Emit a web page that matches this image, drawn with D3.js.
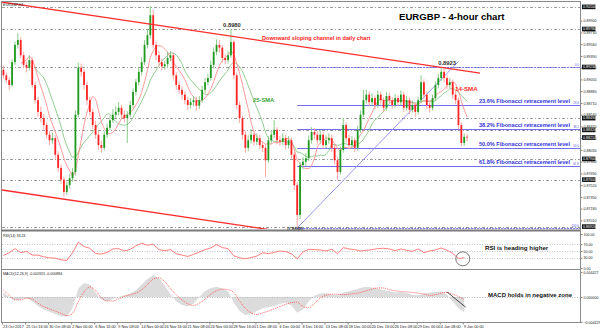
<!DOCTYPE html>
<html>
<head>
<meta charset="utf-8">
<script src="https://cdn.jsdelivr.net/npm/d3@7"></script>
<style>
  body { margin: 0; background: #fff; }
  svg { display: block; font-family: "Liberation Sans", Arial, sans-serif; }
</style>
</head>
<body>
<div id="wrapper"></div>
<script>
// 1. Data (8-hour bars, open = previous close)
const firstOpen = 0.8919;
const closes = [
  .8911,.8904,.8897,.8930,.8955,.8962,.8940,.8926,.8922,.8933,
  .8897,.8875,.8858,.8849,.8839,.8825,.8817,.8820,.8796,.8777,
  .8760,.8742,.8752,.8762,.8771,.8854,.8922,.8916,.8897,.8875,
  .8858,.8839,.8825,.8810,.8806,.8825,.8835,.8846,.8854,.8858,
  .8864,.8854,.8849,.8854,.8868,.8887,.8901,.8916,.8930,.8955,
  .8969,.8998,.8955,.8940,.8930,.8924,.8927,.8936,.8940,.8911,
  .8897,.8890,.8883,.8875,.8868,.8872,.8875,.8867,.8875,.8890,
  .8901,.8907,.8926,.8945,.8955,.8951,.8936,.8933,.8940,.8959,
  .8911,.8868,.8849,.8825,.8806,.8817,.8825,.8815,.8820,.8810,
  .8806,.8788,.8817,.8825,.8832,.8817,.8815,.8820,.8810,.8817,
  .8796,.8752,.8709,.8781,.8786,.8791,.8817,.8829,.8825,.8817,
  .8825,.8810,.8817,.8820,.8806,.8788,.8771,.8803,.8839,.8820,
  .8810,.8817,.8806,.8832,.8854,.8875,.8883,.8872,.8878,.8868,
  .8883,.8875,.8864,.8881,.8875,.8868,.8878,.8872,.8883,.8864,
  .8875,.8861,.8868,.8858,.8875,.8901,.8883,.8868,.8864,.8878,
  .8897,.8907,.8916,.8907,.8897,.8901,.8883,.8875,.8839,.8813,
  .8822,.8821
];
const highs = [
  .8925,.8915,.8908,.8934,.8960,.8972,.8966,.8945,.8931,.8940,
  .8937,.8902,.8880,.8866,.8855,.8843,.8830,.8828,.8824,.8801,
  .8782,.8764,.8757,.8768,.8777,.8860,.8929,.8928,.8920,.8902,
  .8880,.8863,.8845,.8830,.8816,.8830,.8841,.8852,.8862,.8866,
  .8872,.8868,.8860,.8859,.8874,.8892,.8906,.8922,.8937,.8962,
  .8978,.9011,.9006,.8960,.8946,.8935,.8932,.8945,.8946,.8944,
  .8916,.8902,.8895,.8888,.8880,.8878,.8881,.8880,.8881,.8896,
  .8907,.8913,.8932,.8951,.8963,.8962,.8955,.8941,.8946,.8977,
  .8963,.8915,.8873,.8853,.8830,.8824,.8833,.8830,.8827,.8825,
  .8815,.8811,.8823,.8831,.8846,.8836,.8823,.8827,.8825,.8823,
  .8821,.8800,.8756,.8786,.8793,.8798,.8824,.8836,.8834,.8830,
  .8832,.8829,.8824,.8827,.8825,.8810,.8792,.8808,.8849,.8843,
  .8825,.8823,.8821,.8838,.8860,.8890,.8890,.8888,.8885,.8882,
  .8889,.8887,.8879,.8887,.8886,.8879,.8884,.8882,.8889,.8887,
  .8881,.8879,.8874,.8872,.8880,.8911,.8905,.8887,.8872,.8883,
  .8902,.8913,.8923,.8921,.8911,.8907,.8905,.8888,.8879,.8843,
  .8827,.8826
];
const lows = [
  .8906,.8899,.8890,.8894,.8926,.8950,.8935,.8921,.8915,.8918,
  .8892,.8870,.8851,.8843,.8832,.8819,.8810,.8812,.8790,.8771,
  .8754,.8735,.8738,.8747,.8757,.8766,.8850,.8909,.8890,.8868,
  .8852,.8833,.8819,.8803,.8799,.8802,.8820,.8831,.8842,.8849,
  .8853,.8848,.8843,.8813,.8850,.8864,.8882,.8896,.8911,.8926,
  .8950,.8964,.8950,.8933,.8924,.8918,.8919,.8922,.8931,.8905,
  .8890,.8884,.8876,.8869,.8861,.8863,.8866,.8860,.8862,.8871,
  .8885,.8896,.8903,.8921,.8940,.8944,.8930,.8927,.8928,.8936,
  .8905,.8862,.8842,.8818,.8799,.8801,.8812,.8809,.8810,.8804,
  .8800,.8764,.8784,.8812,.8820,.8811,.8809,.8810,.8804,.8805,
  .8790,.8745,.8690,.8703,.8775,.8780,.8787,.8812,.8819,.8811,
  .8812,.8804,.8805,.8812,.8800,.8782,.8760,.8767,.8799,.8814,
  .8804,.8805,.8800,.8802,.8828,.8850,.8870,.8866,.8867,.8862,
  .8864,.8869,.8858,.8860,.8870,.8862,.8864,.8866,.8868,.8858,
  .8860,.8855,.8857,.8851,.8854,.8871,.8877,.8862,.8857,.8860,
  .8874,.8892,.8903,.8901,.8891,.8892,.8877,.8869,.8833,.8808,
  .8809,.8815
];

// one date label every 8 bars
const dateLabels = ["23 Oct 2017", "25 Oct 16:00", "30 Oct 08:00", "2 Nov 00:00", "6 Nov 16:00",
  "9 Nov 08:00", "14 Nov 00:00", "16 Nov 16:00", "21 Nov 08:00", "24 Nov 00:00", "28 Nov 16:00",
  "1 Dec 08:00", "6 Dec 00:00", "8 Dec 16:00", "13 Dec 08:00", "18 Dec 00:00", "20 Dec 16:00",
  "26 Dec 08:00", "29 Dec 00:00", "4 Jan 08:00", "9 Jan 00:00"];

// indicator values, one every 2 bars
const rsiValues = [37,45,57,45,49,38,38,33,30,29, 24,22,45,76,63,58,43,41,46,56,
  57,50,55,65,73,67,70,54,51,54, 42,38,34,40,47,54,59,69,60,57,
  36,30,27,31,35,45,42,46,50,48, 42,27,47,55,54,53,50,55,42,60,
  56,54,50,52,54,57,58,56,51,56, 52,49,56,45,50,53,59,52,43,28, 30];
const macdMain = [.0008,.0000,-.0006,-.0004,-.0002,-.0008,-.0016,-.0022,-.0026,-.0030,
  -.0034,-.0035,-.0020,.0015,.0025,.0022,.0008,-.0005,-.0008,-.0003,
  .0000,.0003,.0006,.0012,.0022,.0032,.0039,.0033,.0020,.0005,
  -.0008,-.0014,-.0017,-.0012,.0000,.0010,.0016,.0018,.0015,.0010,
  -.0010,-.0025,-.0032,-.0030,-.0025,-.0020,-.0018,-.0016,-.0012,-.0010,
  -.0015,-.0028,-.0022,-.0008,.0002,.0006,.0007,.0004,.0003,.0008,
  .0010,.0013,.0016,.0018,.0017,.0015,.0012,.0010,.0008,.0009,
  .0007,.0004,.0003,.0006,.0008,.0009,.0010,.0004,-.0008,-.0020, -.0027];
const macdSignal = [.0012,.0003,-.0005,-.0005,-.0002,-.0004,-.0011,-.0017,-.0021,-.0025,
  -.0029,-.0033,-.0029,-.0008,.0009,.0018,.0011,-.0001,-.0007,-.0007,
  -.0003,.0001,.0004,.0007,.0013,.0022,.0032,.0034,.0027,.0015,
  .0004,-.0005,-.0012,-.0015,-.0011,-.0004,.0005,.0011,.0014,.0013,
  .0008,-.0007,-.0020,-.0028,-.0031,-.0028,-.0025,-.0021,-.0017,-.0013,
  -.0010,-.0009,-.0017,-.0019,-.0011,-.0002,.0003,.0005,.0005,.0004,
  .0005,.0006,.0008,.0011,.0014,.0016,.0016,.0013,.0011,.0010,
  .0009,.0008,.0007,.0005,.0003,.0004,.0007,.0008,.0005,.0001, -.0005];

const priceTicks = [0.8990, 0.8973, 0.8956, 0.8939, 0.8922, 0.8905, 0.8888, 0.8871, 0.8854,
  0.8837, 0.8820, 0.8803, 0.8786, 0.8769, 0.8752, 0.8735, 0.8718, 0.8701];
const levelLines = [0.9010, 0.8978, 0.8923, 0.8849, 0.8832, 0.8790, 0.8760, 0.8692];
const rsiTicks = [100, 70, 50, 30, 0];
const rsiLevels = [70, 50, 30];
const macdTicks = [0.004427, 0, -0.004429];

const fibHigh = 0.8923;
const fibLow = 0.8690;
const fibStartBar = 102;
const fibRatios = [0, 0.236, 0.382, 0.5, 0.618, 1];
const fibNames = ["0.0", "23.6", "38.2", "50.0", "61.8", "100.0"];

// [bar, price] end points
const channelUpper = [[-0.5, 0.9017], [165.5, 0.8914]];
const channelLower = [[-0.5, 0.8745], [95, 0.8686]];
const trendLine = [[102, 0.8690], [158, 0.8931]];
const macdArrow = [[154, 0.0009], [160.5, -0.0018]];

// 8h bars: 14/25-period on 4h ~ 7/12 here
const smaFast = 7;
const smaSlow = 12;

// 2. Dimensions
const dimensions = {
  width: 600,
  height: 331,
  left: 2,
  right: 580,
  main: [2, 229],
  rsi: [232, 268],
  macd: [270, 322]
};

const bars = closes.map((c, i) => ({
  i: i,
  o: i ? closes[i - 1] : firstOpen,
  h: highs[i],
  l: lows[i],
  c: c
}));

function sma(values, n) {
  const out = [];
  for (let i = n - 1; i < values.length; i++) {
    out.push([i, d3.mean(values.slice(i - n + 1, i + 1))]);
  }
  return out;
}

// 3. Canvas
const wrapper = d3.select('#wrapper')
  .append('svg')
  .attr('width', dimensions.width)
  .attr('height', dimensions.height);

wrapper.append('rect')
  .attr('width', dimensions.width)
  .attr('height', dimensions.height)
  .attr('fill', '#fff');

wrapper.append('defs').append('clipPath')
  .attr('id', 'mainClip')
  .append('rect')
  .attr('x', dimensions.left)
  .attr('y', dimensions.main[0])
  .attr('width', dimensions.right - dimensions.left)
  .attr('height', dimensions.main[1] - dimensions.main[0]);

// 4. Scales
const xScale = d3.scaleLinear()
  .domain([-0.5, 200.2])
  .range([dimensions.left, dimensions.right]);

const yScale = d3.scaleLinear()
  .domain([fibHigh, fibLow])
  .range([67, 228]);

const rsiScale = d3.scaleLinear()
  .domain([0, 100])
  .range([dimensions.rsi[1], dimensions.rsi[0] + 2]);

const macdScale = d3.scaleLinear()
  .domain([-0.004429, 0.004427])
  .range([dimensions.macd[1], dimensions.macd[0] + 2]);

// 5. Main panel
const main = wrapper.append('g').attr('clip-path', 'url(#mainClip)');

main.selectAll('.level')
  .data(levelLines)
  .enter()
  .append('line')
  .attr('x1', dimensions.left)
  .attr('x2', dimensions.right)
  .attr('y1', d => Math.round(yScale(d)) + 0.5)
  .attr('y2', d => Math.round(yScale(d)) + 0.5)
  .attr('stroke', '#9a9a9a')
  .attr('stroke-dasharray', '3 2 1 2');

main.selectAll('.fib')
  .data(fibRatios)
  .enter()
  .append('line')
  .attr('x1', xScale(fibStartBar))
  .attr('x2', dimensions.right)
  .attr('y1', d => Math.round(yScale(fibHigh - d * (fibHigh - fibLow))) + 0.5)
  .attr('y2', d => Math.round(yScale(fibHigh - d * (fibHigh - fibLow))) + 0.5)
  .attr('stroke', '#6f6ff0')
  .attr('stroke-dasharray', d => (d === 0 || d === 1) ? '2 1' : null);

const ptLine = d3.line()
  .x(d => xScale(d[0]))
  .y(d => yScale(d[1]));

main.append('path')
  .attr('d', ptLine(trendLine))
  .attr('fill', 'none')
  .attr('stroke', '#8c8cf5')
  .attr('stroke-width', 0.9);

const smaLine = d3.line()
  .x(d => xScale(d[0]))
  .y(d => yScale(d[1]))
  .curve(d3.curveMonotoneX);

main.append('path')
  .attr('d', smaLine(sma(closes, smaSlow)))
  .attr('fill', 'none')
  .attr('stroke', '#77c077')
  .attr('stroke-width', 0.8);

main.append('path')
  .attr('d', smaLine(sma(closes, smaFast)))
  .attr('fill', 'none')
  .attr('stroke', '#ff8080')
  .attr('stroke-width', 0.8);

const candles = main.selectAll('.candle')
  .data(bars)
  .enter()
  .append('g');

candles.append('line')
  .attr('x1', d => xScale(d.i))
  .attr('x2', d => xScale(d.i))
  .attr('y1', d => yScale(d.h))
  .attr('y2', d => yScale(d.l))
  .attr('stroke', d => d.c >= d.o ? '#7ec47e' : '#ff9a9a')
  .attr('stroke-width', 0.9);

candles.append('rect')
  .attr('x', d => xScale(d.i) - 0.9)
  .attr('width', 1.8)
  .attr('y', d => yScale(Math.max(d.o, d.c)))
  .attr('height', d => Math.max(0.8, Math.abs(yScale(d.o) - yScale(d.c))))
  .attr('fill', d => d.c >= d.o ? '#1f9a1f' : '#ff2424');

main.selectAll('.channel')
  .data([channelUpper, channelLower])
  .enter()
  .append('path')
  .attr('d', ptLine)
  .attr('fill', 'none')
  .attr('stroke', '#ff2d2d')
  .attr('stroke-width', 1.3);

// 6. Main panel texts
const textLayer = wrapper.append('g');

textLayer.append('text')
  .attr('x', 399)
  .attr('y', 20)
  .text('EURGBP - 4-hour chart')
  .style('font-size', '9.6px')
  .style('font-weight', 'bold')
  .attr('fill', '#000');

textLayer.append('text')
  .attr('x', 262)
  .attr('y', 39.5)
  .text('Downward sloping channel in daily chart')
  .style('font-size', '5.6px')
  .style('font-weight', 'bold')
  .attr('fill', '#ff2020');

textLayer.append('text')
  .attr('x', xScale(79) + 1)
  .attr('y', yScale(highs[79]) - 3)
  .text('0.8980')
  .style('font-size', '5.8px')
  .style('font-weight', 'bold')
  .style('text-anchor', 'middle')
  .attr('fill', '#333');

textLayer.append('text')
  .attr('x', xScale(153) + 3)
  .attr('y', yScale(fibHigh) - 2.5)
  .text('0.8923')
  .style('font-size', '5.8px')
  .style('font-weight', 'bold')
  .style('text-anchor', 'middle')
  .attr('fill', '#333');

textLayer.append('text')
  .attr('x', xScale(fibStartBar) - 2)
  .attr('y', yScale(fibLow) + 2.5)
  .text('0.8690')
  .style('font-size', '5.2px')
  .style('font-weight', 'bold')
  .style('text-anchor', 'middle')
  .attr('fill', '#333');

textLayer.append('text')
  .attr('x', 253)
  .attr('y', 101.5)
  .text('25-SMA')
  .style('font-size', '5.8px')
  .style('font-weight', 'bold')
  .attr('fill', '#3aa63a');

textLayer.append('text')
  .attr('x', 455)
  .attr('y', 90.5)
  .text('14-SMA')
  .style('font-size', '6.2px')
  .style('font-weight', 'bold')
  .attr('fill', '#ff2d2d');

textLayer.selectAll('.fibText')
  .data(fibRatios.filter(d => d > 0 && d < 1))
  .enter()
  .append('text')
  .attr('x', 570)
  .attr('y', d => yScale(fibHigh - d * (fibHigh - fibLow)) - 2)
  .text(d => d3.format('.1f')(d * 100) + '% Fibonacci retracement level')
  .style('font-size', '5.6px')
  .style('font-weight', 'bold')
  .style('text-anchor', 'end')
  .attr('fill', '#3535e0');

textLayer.selectAll('.fibTag')
  .data(fibRatios)
  .enter()
  .append('text')
  .attr('x', 579)
  .attr('y', d => yScale(fibHigh - d * (fibHigh - fibLow)) - 1)
  .text((d, i) => fibNames[i])
  .style('font-size', '3px')
  .style('text-anchor', 'end')
  .attr('fill', '#5555dd');

textLayer.append('text')
  .attr('x', 3)
  .attr('y', 5.5)
  .text('EURGBP,H4')
  .style('font-size', '3.6px')
  .attr('fill', '#222');

// 7. RSI panel
const rsiLayer = wrapper.append('g');

rsiLayer.selectAll('.rsiLevel')
  .data(rsiLevels)
  .enter()
  .append('line')
  .attr('x1', dimensions.left)
  .attr('x2', dimensions.right)
  .attr('y1', d => Math.round(rsiScale(d)) + 0.5)
  .attr('y2', d => Math.round(rsiScale(d)) + 0.5)
  .attr('stroke', '#c4c4c4')
  .attr('stroke-dasharray', '1 1.5');

rsiLayer.append('path')
  .attr('d', d3.line()
    .x((d, k) => xScale(2 * k))
    .y(d => rsiScale(d))(rsiValues))
  .attr('fill', 'none')
  .attr('stroke', '#ff7070')
  .attr('stroke-width', 0.9);

rsiLayer.append('text')
  .attr('x', 3)
  .attr('y', dimensions.rsi[0] + 4.5)
  .text('RSI(14) 33.23')
  .style('font-size', '3.6px')
  .attr('fill', '#222');

rsiLayer.append('circle')
  .attr('cx', xScale(159.5))
  .attr('cy', rsiScale(27))
  .attr('r', 7)
  .attr('fill', 'none')
  .attr('stroke', '#555')
  .attr('stroke-width', 0.8);

rsiLayer.append('text')
  .attr('x', 485)
  .attr('y', 250)
  .text('RSI is heading higher')
  .style('font-size', '6.2px')
  .style('font-weight', 'bold')
  .attr('fill', '#111');

// 8. MACD panel
const macdLayer = wrapper.append('g');

macdLayer.append('path')
  .attr('d', d3.area()
    .x((d, k) => xScale(2 * k))
    .y0(macdScale(0))
    .y1(d => macdScale(d))(macdMain))
  .attr('fill', '#dcdcdc');

macdLayer.append('line')
  .attr('x1', dimensions.left)
  .attr('x2', dimensions.right)
  .attr('y1', Math.round(macdScale(0)) + 0.5)
  .attr('y2', Math.round(macdScale(0)) + 0.5)
  .attr('stroke', '#bbb')
  .attr('stroke-dasharray', '1 1.5');

macdLayer.append('path')
  .attr('d', d3.line()
    .x((d, k) => xScale(2 * k))
    .y(d => macdScale(d))
    .curve(d3.curveMonotoneX)(macdSignal))
  .attr('fill', 'none')
  .attr('stroke', '#ff5050')
  .attr('stroke-width', 0.9)
  .attr('stroke-dasharray', '1 1');

macdLayer.append('path')
  .attr('d', d3.line()
    .x(d => xScale(d[0]))
    .y(d => macdScale(d[1]))(macdArrow))
  .attr('stroke', '#222')
  .attr('stroke-width', 0.8);

macdLayer.append('text')
  .attr('x', 3)
  .attr('y', dimensions.macd[0] + 4.5)
  .text('MACD(12,26,9) -0.002655 -0.000884')
  .style('font-size', '3.6px')
  .attr('fill', '#222');

macdLayer.append('text')
  .attr('x', 488)
  .attr('y', 297)
  .text('MACD holds in negative zone')
  .style('font-size', '6px')
  .style('font-weight', 'bold')
  .attr('fill', '#111');

// 9. Frame and separators
const frame = wrapper.append('g').attr('fill', 'none');

frame.append('rect')
  .attr('x', 1.5)
  .attr('y', 1.5)
  .attr('width', dimensions.right - 1)
  .attr('height', dimensions.macd[1] - 1)
  .attr('stroke', '#8a8a8a');

frame.append('line')
  .attr('x1', 1).attr('x2', dimensions.right + 1)
  .attr('y1', 230.5).attr('y2', 230.5)
  .attr('stroke', '#7a7a7a')
  .attr('stroke-width', 2);

frame.append('line')
  .attr('x1', 1).attr('x2', dimensions.right + 1)
  .attr('y1', 269.5).attr('y2', 269.5)
  .attr('stroke', '#8a8a8a');

// 10. Axes
function styleAxis(g, size) {
  g.select('.domain').remove();
  g.selectAll('line').attr('stroke', '#888');
  g.selectAll('text')
    .style('font-size', size)
    .style('font-family', '"Liberation Sans", Arial, sans-serif')
    .attr('fill', '#222');
}

const priceAxis = wrapper.append('g')
  .attr('transform', `translate(${dimensions.right + 0.5},0)`)
  .call(d3.axisRight(yScale)
    .tickValues(priceTicks)
    .tickSize(2)
    .tickPadding(1)
    .tickFormat(d3.format('.5f')))
  .call(g => styleAxis(g, '3.6px'));

const rsiAxis = wrapper.append('g')
  .attr('transform', `translate(${dimensions.right + 0.5},0)`)
  .call(d3.axisRight(rsiScale)
    .tickValues(rsiTicks)
    .tickSize(2)
    .tickPadding(1)
    .tickFormat(d3.format('.2f')))
  .call(g => styleAxis(g, '3.6px'));

const macdAxis = wrapper.append('g')
  .attr('transform', `translate(${dimensions.right + 0.5},0)`)
  .call(d3.axisRight(macdScale)
    .tickValues(macdTicks)
    .tickSize(2)
    .tickPadding(1)
    .tickFormat(d3.format('.6f')))
  .call(g => styleAxis(g, '3.6px'));

const timeAxis = wrapper.append('g')
  .attr('transform', `translate(0,${dimensions.macd[1] + 0.5})`)
  .call(d3.axisBottom(xScale)
    .tickValues(dateLabels.map((d, k) => 8 * k - 0.5))
    .tickSize(2)
    .tickPadding(1)
    .tickFormat((d, k) => dateLabels[k]))
  .call(g => styleAxis(g, '3.8px'));
timeAxis.selectAll('text').style('text-anchor', 'start').attr('dx', '0.6');

// boxed price tags for drawn levels and the last close
const tagLevels = levelLines.concat([closes[closes.length - 1]]);
const tags = wrapper.append('g').selectAll('g')
  .data(tagLevels)
  .enter()
  .append('g')
  .attr('transform', d => `translate(${dimensions.right + 2},${yScale(d)})`);
tags.append('rect')
  .attr('x', 0)
  .attr('y', -2.3)
  .attr('width', 13.5)
  .attr('height', 4.6)
  .attr('fill', '#111');
tags.append('text')
  .attr('x', 1)
  .attr('y', 1.3)
  .text(d => d3.format('.5f')(d))
  .style('font-size', '3.6px')
  .attr('fill', '#fff');

wrapper.append('line')
  .attr('x1', dimensions.right + 0.5).attr('x2', dimensions.right + 0.5)
  .attr('y1', 1).attr('y2', dimensions.macd[1] + 1)
  .attr('stroke', '#8a8a8a');
</script>
</body>
</html>
